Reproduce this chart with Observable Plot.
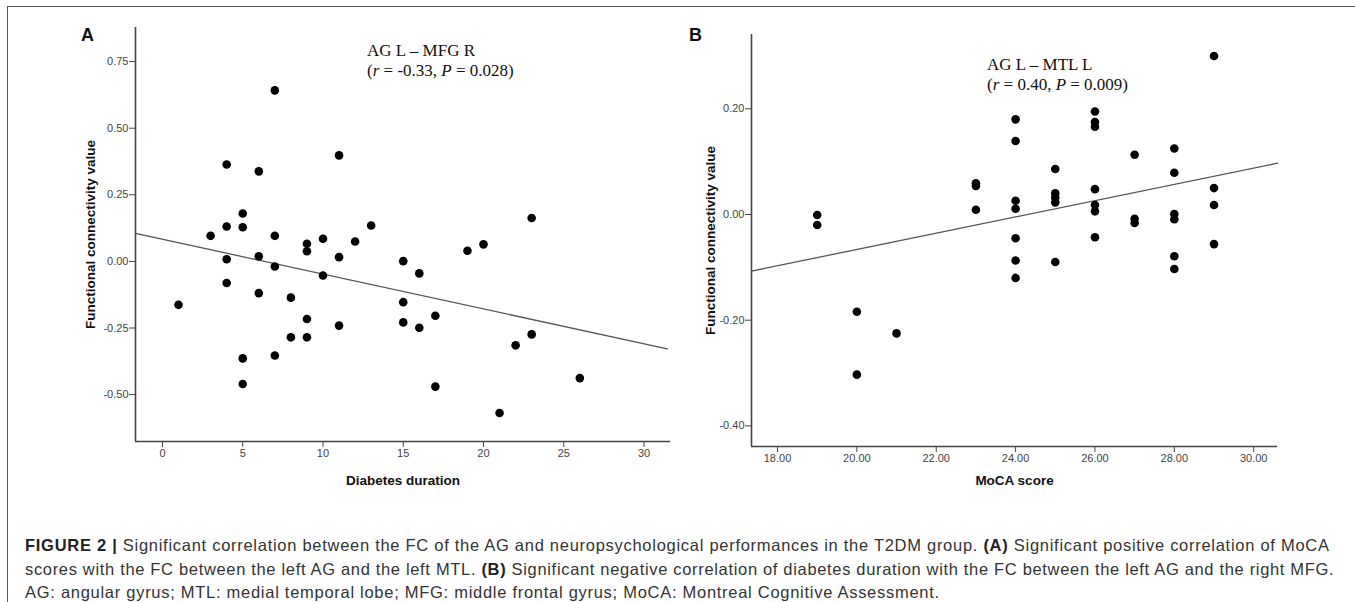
<!DOCTYPE html>
<html><head><meta charset="utf-8">
<script src="https://cdn.jsdelivr.net/npm/d3@7"></script>
<script src="https://cdn.jsdelivr.net/npm/@observablehq/plot@0.6"></script>
<style>
body{margin:0;background:#fff;}
#fig{position:relative;width:1355px;height:602px;overflow:hidden;font-family:"Liberation Sans",Arial,sans-serif;}
.border{position:absolute;left:7px;top:6px;width:1400px;height:700px;border-top:1.5px solid #555;border-left:1.5px solid #555;}
.panel{position:absolute;top:0;}
.letter{position:absolute;font-weight:bold;font-size:18px;color:#111;}
.ann{position:absolute;font-family:"Liberation Serif","Times New Roman",serif;font-size:17px;line-height:20px;white-space:nowrap;color:#111;}
.caption{position:absolute;left:25px;top:534px;font-size:16.5px;letter-spacing:0.72px;line-height:23.6px;color:#333;}
.caption div{white-space:nowrap;}
.caption b{color:#222;}
svg g[aria-label="x-axis label"] text, svg g[aria-label="y-axis label"] text{font-weight:bold;font-size:13.5px;fill:#111;}
</style>
</head><body>
<div id="fig">
  <div class="border"></div>
  <div class="panel" id="pa" style="left:0px"></div>
  <div class="panel" id="pb" style="left:680px"></div>
  <div class="letter" style="left:81px;top:25px">A</div>
  <div class="letter" style="left:689px;top:25px">B</div>
  <div class="ann" style="left:367px;top:41px">AG L – MFG R<br>(<i>r</i> = -0.33, <i>P</i> = 0.028)</div>
  <div class="ann" style="left:987px;top:55px">AG L – MTL L<br>(<i>r</i> = 0.40, <i>P</i> = 0.009)</div>
  <div class="caption">
    <div><b>FIGURE 2 |</b> Significant correlation between the FC of the AG and neuropsychological performances in the T2DM group. <b>(A)</b> Significant positive correlation of MoCA</div>
    <div style="letter-spacing:0.67px">scores with the FC between the left AG and the left MTL. <b>(B)</b> Significant negative correlation of diabetes duration with the FC between the left AG and the right MFG.</div>
    <div>AG: angular gyrus; MTL: medial temporal lobe; MFG: middle frontal gyrus; MoCA: Montreal Cognitive Assessment.</div>
  </div>
</div>
<script>
// Panel A: diabetes duration vs FC (AG L – MFG R)
const aDuration = [1,3,4,4,4,4,5,5,5,5,6,6,6,7,7,7,7,8,8,9,9,9,9,10,10,11,11,11,12,13,15,15,15,16,16,17,17,19,20,21,22,23,23,26];
const aFC = [-0.163,0.096,0.364,0.131,0.008,-0.081,0.180,0.128,-0.364,-0.460,0.338,0.019,-0.119,0.642,0.096,-0.019,-0.353,-0.136,-0.285,0.066,0.038,-0.216,-0.285,0.085,-0.053,0.398,0.016,-0.241,0.075,0.135,0.001,-0.153,-0.229,-0.045,-0.249,-0.204,-0.470,0.040,0.064,-0.569,-0.315,0.163,-0.274,-0.438];
const aFitX = [-1.68, 31.45];
const aFitY = [0.105, -0.328];
const aXTicks = [0,5,10,15,20,25,30];
const aYTicks = [-0.5,-0.25,0,0.25,0.5,0.75];

// Panel B: MoCA score vs FC (AG L – MTL L)
const bMoCA = [19,19,20,20,21,23,23,23,24,24,24,24,24,24,24,25,25,25,25,25,26,26,26,26,26,26,26,27,27,27,28,28,28,28,28,28,29,29,29,29];
const bFC = [-0.001,-0.020,-0.184,-0.303,-0.225,0.059,0.054,0.009,0.180,0.139,0.026,0.011,-0.045,-0.087,-0.120,0.086,0.040,0.032,0.023,-0.090,0.195,0.175,0.166,0.048,0.018,0.006,-0.043,0.113,-0.008,-0.016,0.125,0.079,0.001,-0.009,-0.079,-0.103,0.300,0.050,0.018,-0.056];
const bFitX = [17.35, 30.6];
const bFitY = [-0.107, 0.097];
const bXTicks = [18,20,22,24,26,28,30];
const bYTicks = [-0.4,-0.2,0,0.2];

function panel(o){
  const pts = o.xs.map((x,i)=>({x, y:o.ys[i]}));
  const fit = o.fx.map((x,i)=>({x, y:o.fy[i]}));
  return Plot.plot({
    width:o.width, height:o.height,
    marginLeft:o.ml, marginRight:o.mr, marginTop:o.mt, marginBottom:o.mb,
    style:{fontSize:"11px", fontFamily:"Liberation Sans, Arial, sans-serif", color:"#444", background:"transparent", overflow:"visible"},
    x:{domain:o.xd}, y:{domain:o.yd},
    marks:[
      Plot.ruleX([o.xd[0]], {stroke:"#444", strokeWidth:1.6}),
      Plot.ruleY([o.yd[0]], {stroke:"#444", strokeWidth:1.6}),
      Plot.axisX({ticks:o.xt, tickSize:6, tickPadding:2, tickFormat:o.xf, label:o.xl, labelAnchor:"center", labelOffset:o.xlo, labelArrow:"none"}),
      Plot.axisY({ticks:o.yt, tickSize:6, tickPadding:1, tickFormat:d=>d.toFixed(2), label:"Functional connectivity value", labelAnchor:"center", labelOffset:o.ylo, labelArrow:"none"}),
      Plot.line(fit, {x:"x", y:"y", stroke:"#555", strokeWidth:1.3}),
      Plot.dot(pts, {x:"x", y:"y", r:4.3, fill:"#000", stroke:"none"})
    ]
  });
}

document.getElementById("pa").append(panel({
  xs:aDuration, ys:aFC, fx:aFitX, fy:aFitY,
  width:680, height:500, ml:135, mr:10, mt:27, mb:59,
  xd:[-1.68,31.65], yd:[-0.676,0.878], xt:aXTicks, yt:aYTicks,
  xf:d=>String(d), xl:"Diabetes duration", xlo:43, ylo:50
}));
document.getElementById("pb").append(panel({
  xs:bMoCA, ys:bFC, fx:bFitX, fy:bFitY,
  width:675, height:500, ml:71, mr:78, mt:34, mb:54,
  xd:[17.345,30.6], yd:[-0.439,0.3406], xt:bXTicks, yt:bYTicks,
  xf:d=>d.toFixed(2), xl:"MoCA score", xlo:38, ylo:46
}));
</script>
</body></html>
